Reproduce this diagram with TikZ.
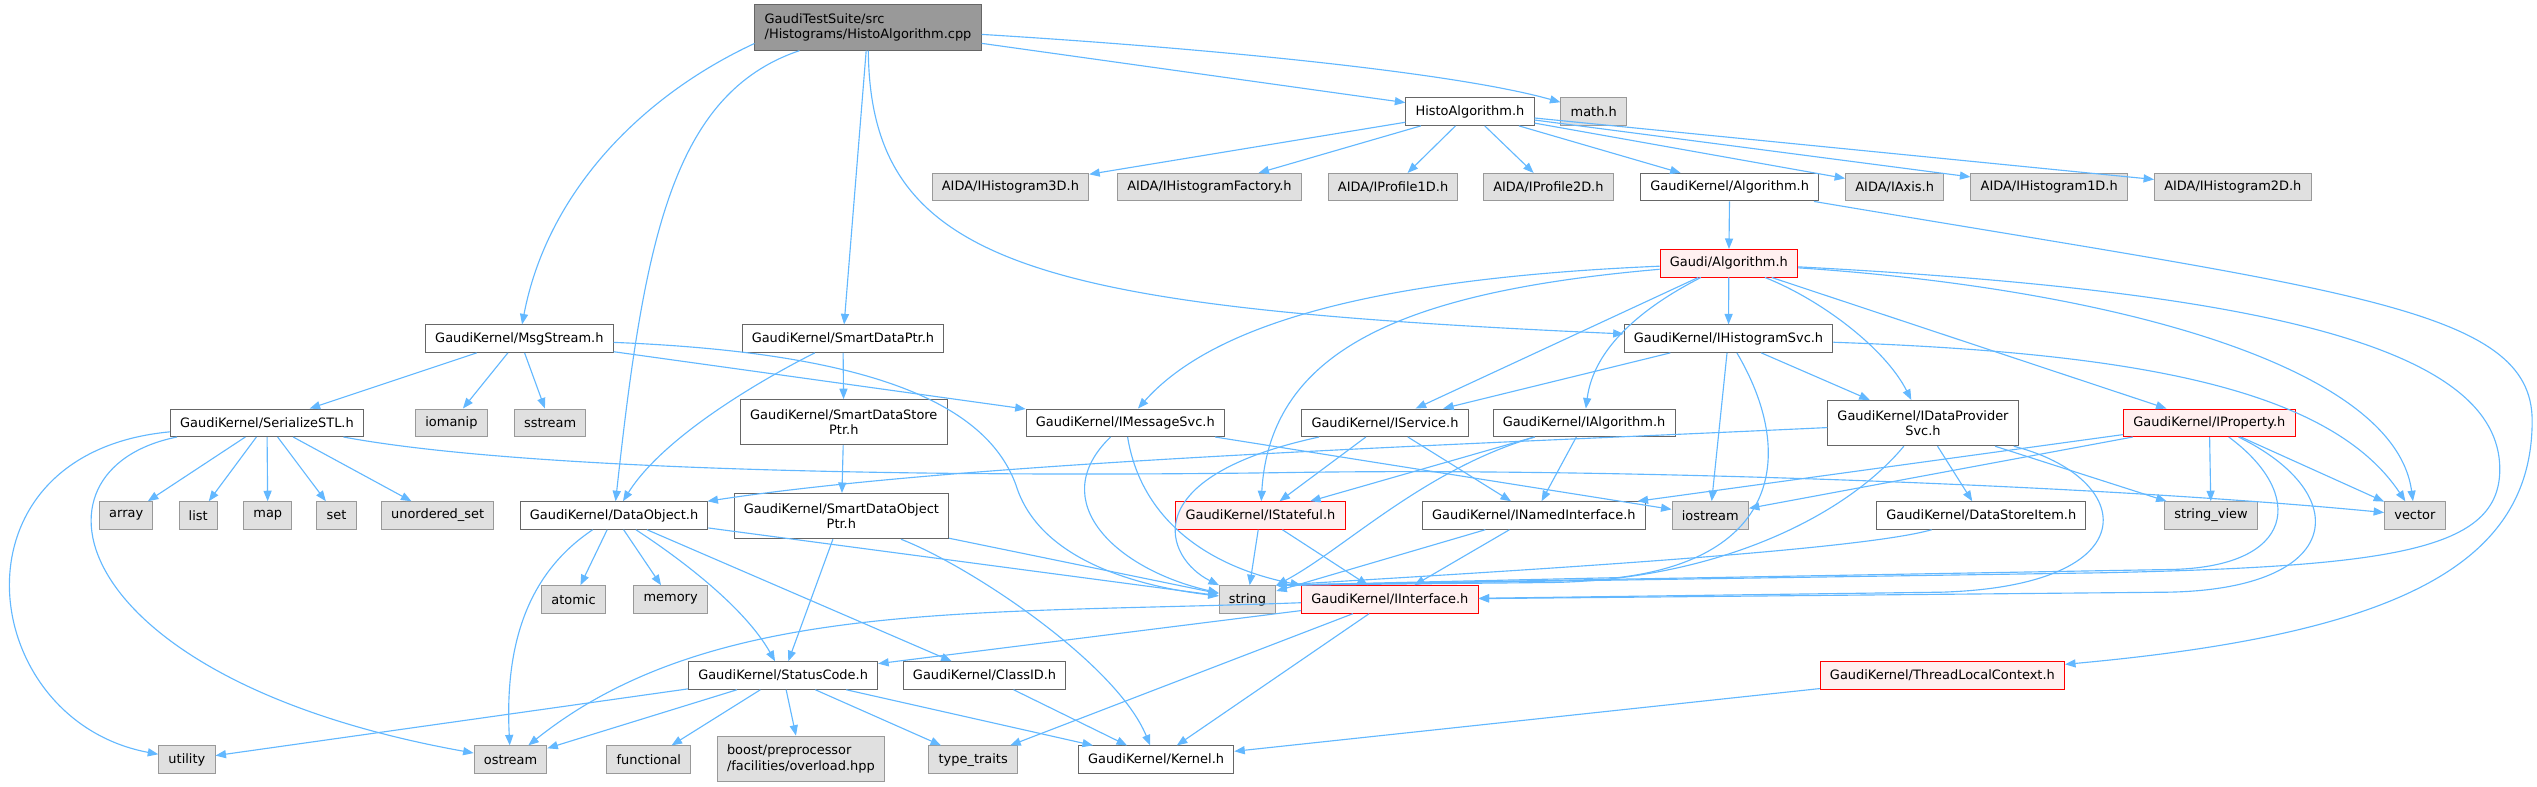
\documentclass[tikz,border=0pt]{standalone}
\usepackage{fontspec}
\setmainfont{DejaVu Sans}
\usepackage{xcolor}
\usetikzlibrary{arrows.meta}
\definecolor{edgeblue}{HTML}{63B8FF}
\definecolor{extfill}{HTML}{E0E0E0}
\definecolor{extline}{HTML}{999999}
\definecolor{fileline}{HTML}{666666}
\definecolor{redfill}{HTML}{FFF0F0}
\definecolor{rootfill}{HTML}{999999}

\begin{document}
\begin{tikzpicture}[x=1pt,y=-1pt,>={Triangle[length=6.5pt,width=5pt]},
  every edge/.style={draw=edgeblue,line width=0.7pt,->},
  dep/.style={draw=edgeblue,line width=0.7pt,->},
  box/.style={rectangle,draw,line width=0.6pt,minimum height=17pt,inner xsep=6pt,inner ysep=1pt,font=\fontsize{8}{9.6}\selectfont},
  file node/.style={box,draw=fileline,fill=white},
  sys node/.style={box,draw=extline,fill=extfill},
  red node/.style={box,draw=red,fill=redfill},
  root node/.style={box,draw=fileline,fill=rootfill,align=left,minimum height=28pt},
  two line/.style={align=center,minimum height=28pt}]

            \useasboundingbox (0,0) rectangle (1568,486.4);

            \node[root node] (1) at (536.5,17) {GaudiTestSuite/src\\/Histograms/HistoAlgorithm.cpp};

            \node[file node] (2) at (908.5,69) {HistoAlgorithm.h};
            \node[sys node] (3) at (985,69) {math.h};

            \node[sys node] (4) at (624.5,115.7) {AIDA/IHistogram3D.h};
            \node[sys node] (5) at (747.5,115.7) {AIDA/IHistogramFactory.h};
            \node[sys node] (6) at (861,115.7) {AIDA/IProfile1D.h};
            \node[sys node] (7) at (957,115.7) {AIDA/IProfile2D.h};
            \node[file node] (8) at (1069,115.7) {GaudiKernel/Algorithm.h};
            \node[sys node] (9) at (1171,115.7) {AIDA/IAxis.h};
            \node[sys node] (10) at (1266.5,115.7) {AIDA/IHistogram1D.h};
            \node[sys node] (11) at (1380,115.7) {AIDA/IHistogram2D.h};

            \node[red node] (12) at (1068.5,162.7) {Gaudi/Algorithm.h};

            \node[file node] (13) at (321,209.3) {GaudiKernel/MsgStream.h};
            \node[file node] (14) at (521,209.3) {GaudiKernel/SmartDataPtr.h};
            \node[file node] (15) at (1068.3,209.3) {GaudiKernel/IHistogramSvc.h};

            \node[file node] (16) at (165,261.3) {GaudiKernel/SerializeSTL.h};
            \node[sys node] (17) at (279,261.3) {iomanip};
            \node[sys node] (18) at (340,261.3) {sstream};
            \node[file node, two line] (19) at (521.5,261) {GaudiKernel/SmartDataStore\\Ptr.h};
            \node[file node] (20) at (695.5,261.3) {GaudiKernel/IMessageSvc.h};
            \node[file node] (21) at (856,261.3) {GaudiKernel/IService.h};
            \node[file node] (22) at (979,261.3) {GaudiKernel/IAlgorithm.h};
            \node[file node, two line] (23) at (1188.5,261.5) {GaudiKernel/IDataProvider\\Svc.h};
            \node[red node] (24) at (1365.5,261.3) {GaudiKernel/IProperty.h};

            \node[sys node] (25) at (78,318.6) {array};
            \node[sys node] (26) at (122.5,318.6) {list};
            \node[sys node] (27) at (165.5,318.6) {map};
            \node[sys node] (28) at (208,318.6) {set};
            \node[sys node] (29) at (270.5,318.6) {unordered\_set};
            \node[file node] (30) at (379.5,318.6) {GaudiKernel/DataObject.h};
            \node[file node, two line] (31) at (520,319) {GaudiKernel/SmartDataObject\\Ptr.h};
            \node[red node] (32) at (779,318.6) {GaudiKernel/IStateful.h};
            \node[file node] (33) at (948,318.6) {GaudiKernel/INamedInterface.h};
            \node[sys node] (34) at (1057,318.6) {iostream};
            \node[file node] (35) at (1224.5,318.6) {GaudiKernel/DataStoreItem.h};
            \node[sys node] (36) at (1366.5,318.6) {string\_view};
            \node[sys node] (37) at (1492.5,318.6) {vector};

            \node[sys node] (38) at (354.5,370.5) {atomic};
            \node[sys node] (39) at (414.5,370.5) {memory};
            \node[sys node] (40) at (771,370.5) {string};
            \node[red node] (41) at (859,370.5) {GaudiKernel/IInterface.h};

            \node[file node] (42) at (484,417.5) {GaudiKernel/StatusCode.h};
            \node[file node] (43) at (608.5,417.5) {GaudiKernel/ClassID.h};
            \node[red node] (44) at (1200.5,417.5) {GaudiKernel/ThreadLocalContext.h};

            \node[sys node] (45) at (115.5,469.5) {utility};
            \node[sys node] (46) at (315.5,469.5) {ostream};
            \node[sys node] (47) at (401,469.5) {functional};
            \node[sys node, align=left, minimum height=28pt] (48) at (495,469) {boost/preprocessor\\/facilities/overload.hpp};
            \node[sys node] (49) at (601.5,469.5) {type\_traits};
            \node[file node] (50) at (714.5,469.5) {GaudiKernel/Kernel.h};

            \path
                (1) edge (2)
                (1) edge (14)

                (2) edge (4)
                (2) edge (5)
                (2) edge (6)
                (2) edge (7)
                (2) edge (8)
                (2) edge (9)
                (2) edge (10)
                (2) edge (11)

                (8) edge (12)

                (12) edge (15)
                (12) edge (21)
                (12) edge (24)

                (13) edge (16)
                (13) edge (17)
                (13) edge (18)
                (13) edge (20)

                (14) edge (19)
                (19) edge (31)

                (15) edge (21)
                (15) edge (34)
                (15) edge (23)

                (16) edge (25)
                (16) edge (26)
                (16) edge (27)
                (16) edge (28)
                (16) edge (29)

                (20) edge (34)
                (21) edge (32)
                (21) edge (33)
                (22) edge (32)
                (22) edge (33)

                (23) edge (35)
                (23) edge (36)

                (24) edge (33)
                (24) edge (34)
                (24) edge (36)
                (24) edge (37)

                (30) edge (38)
                (30) edge (39)
                (30) edge (43)
                (30) edge (40)

                (31) edge (42)
                (31) edge (40)

                (32) edge (40)
                (32) edge (41)
                (33) edge (40)
                (33) edge (41)

                (41) edge (42)
                (41) edge (49)
                (41) edge (50)

                (42) edge (45)
                (42) edge (46)
                (42) edge (47)
                (42) edge (48)
                (42) edge (49)
                (42) edge (50)

                (43) edge (50)
                (44) edge (50)
                ;

            \draw[dep] (1) .. controls (750,30) and (900,45) .. (3);
            \draw[dep] (1.188) .. controls (395,60) and (338,120) .. (13);
            \draw[dep] (1) .. controls (415,58) and (398,150) .. (30);
            \draw[dep] (1) .. controls (538,165) and (640,190) .. (15);

            \draw[dep] (8) .. controls (1450,180) and (1565,190) .. (1565,260) .. controls (1565,350) and (1480,392) .. (44);

            \draw[dep] (12) .. controls (850,172) and (750,200) .. (20);
            \draw[dep] (12) .. controls (870,180) and (785,215) .. (32);
            \draw[dep] (12) .. controls (1015,190) and (985,215) .. (22);
            \draw[dep] (12) .. controls (1125,185) and (1165,215) .. (23);
            \draw[dep] (12) .. controls (1300,178) and (1480,225) .. (37);
            \draw[dep] (12) .. controls (1400,180) and (1545,215) .. (1545,290) .. controls (1545,340) and (1480,350) .. (1300,354) -- (40.north east);

            \draw[dep] (15) .. controls (1320,218) and (1440,240) .. (37);
            \draw[dep] (15) .. controls (1110,280) and (1100,345) .. (1000,357) -- (40.north east);

            \draw[dep] (23) .. controls (1140,320) and (1060,358) .. (960,360) -- (40.north east);
            \draw[dep] (23) .. controls (1320,295) and (1330,362) .. (1200,366) -- (41);
            \draw[dep] (23) .. controls (900,275) and (600,285) .. (30);

            \draw[dep] (24) .. controls (1425,305) and (1420,351) .. (1340,352) -- (40.north east);
            \draw[dep] (24) .. controls (1455,305) and (1450,364) .. (1340,366) -- (41);

            \draw[dep] (35) .. controls (1150,340) and (950,352) .. (40.north east);
            \draw[dep] (22) .. controls (880,290) and (830,340) .. (40.north east);
            \draw[dep] (21) .. controls (700,295) and (720,345) .. (40);
            \draw[dep] (20) .. controls (645,310) and (690,352) .. (40);
            \draw[dep] (20) .. controls (705,320) and (745,350) .. (41.north west);

            \draw[dep] (13) .. controls (540,218) and (610,250) .. (628,300) .. controls (642,345) and (700,362) .. (40);
            \draw[dep] (14) .. controls (470,235) and (410,270) .. (30);

            \draw[dep] (16) .. controls (330,292) and (600,295) .. (800,292) .. controls (1000,289) and (1300,300) .. (37);
            \draw[dep] (16) .. controls (-35,280) and (-15,445) .. (45);
            \draw[dep] (16.189) .. controls (10,290) and (40,420) .. (46);

            \draw[dep] (30) .. controls (325,355) and (312,400) .. (46);
            \draw[dep] (30) .. controls (420,345) and (460,375) .. (42);
            \draw[dep] (31) .. controls (600,350) and (690,410) .. (50);
            \draw[dep] (41) .. controls (600,380) and (440,370) .. (46);
        \end{tikzpicture}
\end{document}
